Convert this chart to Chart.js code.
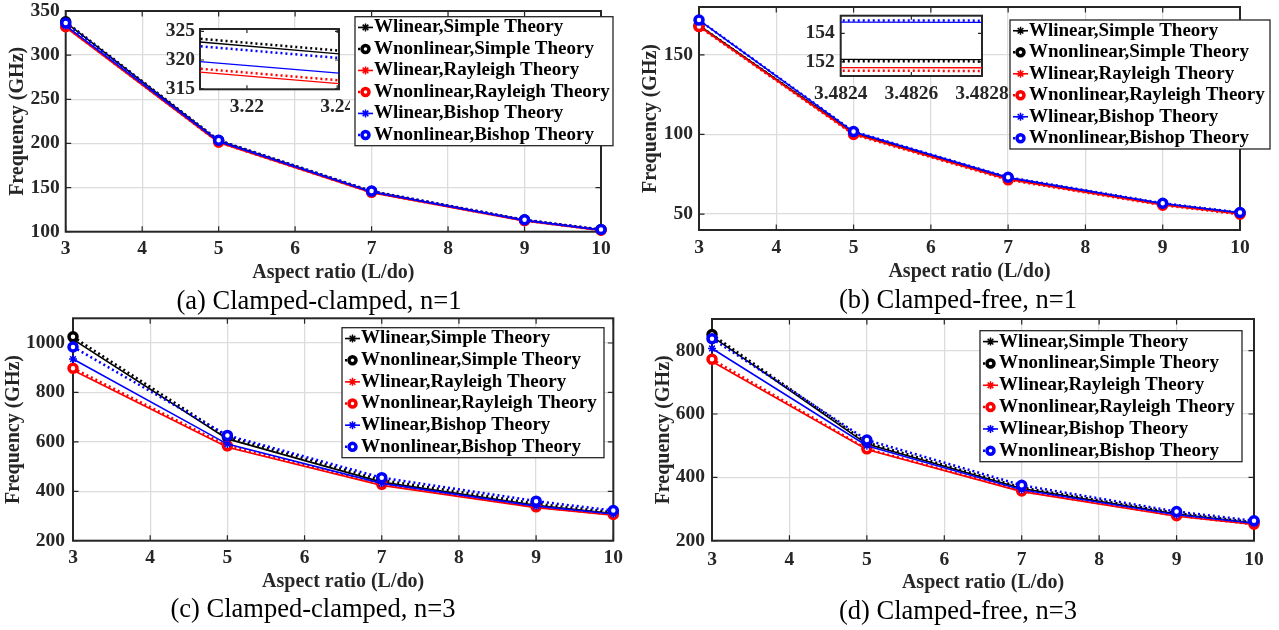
<!DOCTYPE html>
<html>
<head>
<meta charset="utf-8">
<script src="https://cdn.jsdelivr.net/npm/chart.js@4.4.1/dist/chart.umd.min.js"></script>
<style>
  body { margin: 0; background: #fff; width: 1279px; height: 630px; position: relative; overflow: hidden; }
  canvas { position: absolute; }
  .cap { position: absolute; font-family: "Liberation Serif", serif; font-size: 26.5px; line-height: 27px; color: #000; transform: translate(-50%, -50%); white-space: nowrap; }
</style>
</head>
<body>
<canvas id="pa" width="640" height="315" style="left:0px;top:0px"></canvas>
<canvas id="pb" width="649" height="315" style="left:630px;top:0px"></canvas>
<canvas id="pc" width="640" height="315" style="left:0px;top:315px"></canvas>
<canvas id="pd" width="649" height="315" style="left:630px;top:315px"></canvas>
<canvas id="ia" width="200" height="105" style="left:150px;top:18px"></canvas>
<canvas id="ib" width="225" height="105" style="left:790px;top:4px"></canvas>
<div class="cap" style="left:319px;top:300px">(a) Clamped-clamped, n=1</div>
<div class="cap" style="left:958px;top:299px">(b) Clamped-free, n=1</div>
<div class="cap" style="left:313px;top:608px">(c) Clamped-clamped, n=3</div>
<div class="cap" style="left:958px;top:610px">(d) Clamped-free, n=3</div>
<script>
// x values and legend labels
const aspectRatio = [3, 5, 7, 9, 10];
const seriesLabels = [
    'Wlinear,Simple Theory',
    'Wnonlinear,Simple Theory',
    'Wlinear,Rayleigh Theory',
    'Wnonlinear,Rayleigh Theory',
    'Wlinear,Bishop Theory',
    'Wnonlinear,Bishop Theory'
];

// (a) Clamped-clamped, n=1
const ccN1SimpleLin = [337.2, 203.0, 145.3, 113.0, 102.0];
const ccN1SimpleNon = [337.8, 203.3, 145.6, 113.3, 102.3];
const ccN1RayLin = [331.6, 200.9, 144.2, 112.3, 101.3];
const ccN1RayNon = [332.2, 201.3, 144.6, 112.6, 101.6];
const ccN1BishLin = [333.5, 202.1, 145.0, 112.8, 101.8];
const ccN1BishNon = [336.3, 203.6, 146.0, 113.5, 102.5];

// (b) Clamped-free, n=1
const cfN1SimpleLin = [168.5, 100.8, 72.4, 56.2, 50.5];
const cfN1SimpleNon = [168.3, 100.9, 72.5, 56.3, 50.6];
const cfN1RayLin = [167.9, 100.3, 71.8, 55.8, 50.1];
const cfN1RayNon = [167.7, 100.0, 71.5, 55.6, 49.9];
const cfN1BishLin = [171.7, 101.6, 72.9, 56.6, 50.8];
const cfN1BishNon = [171.8, 101.8, 73.1, 56.8, 51.0];

// (c) Clamped-clamped, n=3
const ccN3SimpleLin = [1015, 612, 437, 343, 310];
const ccN3SimpleNon = [1025, 620, 445, 350, 315];
const ccN3RayLin = [890, 578, 424, 334, 303];
const ccN3RayNon = [898, 584, 428, 337, 306];
const ccN3BishLin = [935, 591, 432, 340, 308];
const ccN3BishNon = [984, 626, 455, 360, 322];

// (d) Clamped-free, n=3
const cfN3SimpleLin = [845, 505, 365, 284, 256];
const cfN3SimpleNon = [851, 510, 368, 287, 258];
const cfN3RayLin = [766, 488, 355, 277, 251];
const cfN3RayNon = [773, 490, 357, 279, 252];
const cfN3BishLin = [807, 500, 361, 282, 255];
const cfN3BishNon = [838, 518, 375, 292, 263];

// tick labels
const xTicks = [3, 4, 5, 6, 7, 8, 9, 10];
const yTicksA = [100, 150, 200, 250, 300, 350];
const yTicksB = [50, 100, 150];
const yTicksC = [200, 400, 600, 800, 1000];
const yTicksD = [200, 400, 600, 800];
const insetXTicksA = [3.22, 3.24];
const insetYTicksA = [315, 320, 325];
const insetXTicksB = [3.4824, 3.4826, 3.4828];
const insetYTicksB = [152, 154];

const seriesColor = ['#000000', '#000000', '#ff0000', '#ff0000', '#0000ff', '#0000ff'];
const FONT = 'Liberation Serif';
const tickFont = { family: FONT, size: 19.5, weight: 'bold', lineHeight: 1.2 };
const titleFont = { family: FONT, size: 20, weight: 'bold', lineHeight: 1.2 };
const HALF_T = 20 * 1.2 / 2;
const HALF_K = 19.5 * 1.2 / 2;

function makeDatasets(seriesList, inset) {
    return seriesList.map((vals, i) => {
        const dotted = i % 2 === 1;
        return {
            label: seriesLabels[i],
            data: aspectRatio.map((x, k) => ({ x: x, y: vals[k] })),
            borderColor: seriesColor[i],
            backgroundColor: seriesColor[i],
            borderWidth: dotted ? 2.5 : (inset ? 1.3 : 1.6),
            borderDash: dotted ? [2, 3] : [],
            pointStyle: dotted ? 'circle' : 'star',
            pointRadius: inset ? 0 : (dotted ? 4 : 4),
            pointBorderWidth: dotted ? 3.5 : 1.5,
            pointBorderColor: seriesColor[i],
            pointBackgroundColor: dotted ? '#ffffff' : seriesColor[i],
            tension: 0,
            fill: false,
            clip: inset ? 0 : 12,
            order: seriesList.length - 1 - i
        };
    });
}

// zoomed insets map far-away points outside the int16 pixel clamp, so keep the raw pixel
function unclamped(s) {
    s.getPixelForDecimal = function (d) {
        if (this._reversePixels) d = 1 - d;
        return this._startPixel + d * this._length;
    };
}

// MATLAB-like box with inward ticks
const framePlugin = {
    id: 'frame',
    beforeDraw(chart, args, o) {
        if (!o.whiteFill) return;
        const a = chart.chartArea;
        chart.ctx.save();
        chart.ctx.fillStyle = '#ffffff';
        chart.ctx.fillRect(a.left, a.top, a.right - a.left, a.bottom - a.top);
        chart.ctx.restore();
    },
    beforeDatasetsDraw(chart, args, o) {
        const { ctx, chartArea: a, scales } = chart;
        const L = o.tickLen || 5;
        ctx.save();
        ctx.strokeStyle = '#262626';
        ctx.lineWidth = 1.2;
        ctx.beginPath();
        scales.x.ticks.forEach(t => {
            const px = scales.x.getPixelForValue(t.value);
            ctx.moveTo(px, a.bottom); ctx.lineTo(px, a.bottom - L);
            ctx.moveTo(px, a.top); ctx.lineTo(px, a.top + L);
        });
        scales.y.ticks.forEach(t => {
            const py = scales.y.getPixelForValue(t.value);
            ctx.moveTo(a.left, py); ctx.lineTo(a.left + L, py);
            ctx.moveTo(a.right, py); ctx.lineTo(a.right - L, py);
        });
        ctx.stroke();
        ctx.lineWidth = 2;
        ctx.strokeRect(a.left, a.top, a.right - a.left, a.bottom - a.top);
        ctx.restore();
    }
};

// boxed legend drawn at a fixed spot
const boxLegend = {
    id: 'boxLegend',
    afterDraw(chart, args, o) {
        if (!o.box) return;
        const ctx = chart.ctx;
        const { x, y, w, h } = o.box;
        const sets = chart.data.datasets;
        const rowH = h / sets.length;
        ctx.save();
        ctx.fillStyle = '#ffffff';
        ctx.fillRect(x, y, w, h);
        ctx.strokeStyle = '#262626';
        ctx.lineWidth = 1.3;
        ctx.strokeRect(x, y, w, h);
        ctx.font = 'bold 19px "' + FONT + '"';
        ctx.textBaseline = 'middle';
        sets.forEach((ds, i) => {
            const cy = y + rowH * (i + 0.5);
            const x0 = x + 3, x1 = x + 18;
            ctx.strokeStyle = ds.borderColor;
            ctx.lineWidth = ds.borderWidth;
            ctx.setLineDash(ds.borderDash);
            ctx.beginPath();
            ctx.moveTo(x0, cy); ctx.lineTo(x1, cy);
            ctx.stroke();
            ctx.setLineDash([]);
            ctx.lineWidth = ds.pointBorderWidth;
            ctx.fillStyle = ds.pointBackgroundColor;
            Chart.helpers.drawPoint(ctx, { pointStyle: ds.pointStyle, radius: ds.pointStyle === 'circle' ? 3.5 : 4, borderWidth: ds.pointBorderWidth, rotation: 0 }, (x0 + x1) / 2, cy);
            ctx.fillStyle = '#000000';
            ctx.fillText(ds.label, x + 19, cy);
        });
        ctx.restore();
    }
};

function buildChart(id, p) {
    const c = p.canvas, a = p.area;
    const padLeft = p.yTitleX ? p.yTitleX - c.x - HALF_T : 0;
    const yW = a.l - c.x - padLeft;
    const xBottom = p.xTitleY ? p.xTitleY + HALF_T : c.y + c.h;
    const xH = xBottom - a.b;
    const cfg = {
        type: 'line',
        data: { datasets: makeDatasets(p.series, p.inset) },
        plugins: p.inset ? [framePlugin] : [framePlugin, boxLegend],
        options: {
            responsive: false,
            animation: false,
            events: [],
            layout: {
                autoPadding: false,
                padding: { left: padLeft, right: c.x + c.w - a.r, top: a.t - c.y, bottom: c.y + c.h - xBottom }
            },
            plugins: {
                legend: { display: false },
                tooltip: { enabled: false },
                frame: { whiteFill: !!p.inset, tickLen: p.inset ? 4 : 5.5 },
                boxLegend: { box: p.legend ? { x: p.legend.x - c.x, y: p.legend.y - c.y, w: p.legend.w, h: p.legend.h } : null }
            },
            scales: {
                x: {
                    type: 'linear',
                    min: p.xRange[0],
                    max: p.xRange[1],
                    afterBuildTicks: s => {
                        s.ticks = p.xTicks.map(v => ({ value: v }));
                        if (p.inset) unclamped(s);
                    },
                    afterFit: s => { s.height = xH; s.paddingLeft = 0; s.paddingRight = 0; },
                    grid: { display: !p.inset, color: '#dcdcdc', lineWidth: 1.3, drawTicks: false },
                    border: { display: false },
                    ticks: { padding: p.xLabelY - a.b - HALF_K, color: '#262626', font: tickFont, maxRotation: 0, autoSkip: false, callback: v => String(v) },
                    title: { display: !!p.xTitleY, text: 'Aspect ratio (L/do)', color: '#262626', font: titleFont, padding: 0 }
                },
                y: {
                    type: 'linear',
                    min: p.yRange[0],
                    max: p.yRange[1],
                    afterBuildTicks: s => {
                        s.ticks = p.yTicks.map(v => ({ value: v }));
                        if (p.inset) unclamped(s);
                    },
                    afterFit: s => { s.width = yW; s.paddingTop = 0; s.paddingBottom = 0; },
                    grid: { display: !p.inset, color: '#dcdcdc', lineWidth: 1.3, drawTicks: false },
                    border: { display: false },
                    ticks: { padding: p.yGap, color: '#262626', font: tickFont, autoSkip: false, callback: v => String(v) },
                    title: { display: !!p.yTitleX, text: 'Frequency (GHz)', color: '#262626', font: titleFont, padding: 0 }
                }
            }
        }
    };
    return new Chart(document.getElementById(id), cfg);
}

const setA = [ccN1SimpleLin, ccN1SimpleNon, ccN1RayLin, ccN1RayNon, ccN1BishLin, ccN1BishNon];
const setB = [cfN1SimpleLin, cfN1SimpleNon, cfN1RayLin, cfN1RayNon, cfN1BishLin, cfN1BishNon];
const setC = [ccN3SimpleLin, ccN3SimpleNon, ccN3RayLin, ccN3RayNon, ccN3BishLin, ccN3BishNon];
const setD = [cfN3SimpleLin, cfN3SimpleNon, cfN3RayLin, cfN3RayNon, cfN3BishLin, cfN3BishNon];

buildChart('pa', {
    canvas: { x: 0, y: 0, w: 640, h: 315 },
    area: { l: 65.7, r: 601, t: 11, b: 231.7 },
    yTitleX: 18, xTitleY: 273, yGap: 6, xLabelY: 249,
    xRange: [3, 10], yRange: [100, 350], xTicks: xTicks, yTicks: yTicksA,
    series: setA,
    legend: { x: 355, y: 16.7, w: 258, h: 129 }
});
buildChart('pb', {
    canvas: { x: 630, y: 0, w: 649, h: 315 },
    area: { l: 699, r: 1240, t: 7, b: 230 },
    yTitleX: 651, xTitleY: 272, yGap: 6, xLabelY: 248,
    xRange: [3, 10], yRange: [40, 180], xTicks: xTicks, yTicks: yTicksB,
    series: setB,
    legend: { x: 1010, y: 20, w: 260, h: 129 }
});
buildChart('pc', {
    canvas: { x: 0, y: 315, w: 640, h: 315 },
    area: { l: 73, r: 613.3, t: 318.3, b: 540.7 },
    yTitleX: 14.3, xTitleY: 581.7, yGap: 8, xLabelY: 558.3,
    xRange: [3, 10], yRange: [200, 1100], xTicks: xTicks, yTicks: yTicksC,
    series: setC,
    legend: { x: 342, y: 327.7, w: 262, h: 130 }
});
buildChart('pd', {
    canvas: { x: 630, y: 315, w: 649, h: 315 },
    area: { l: 712, r: 1254, t: 319, b: 540.7 },
    yTitleX: 664, xTitleY: 582.7, yGap: 7, xLabelY: 560,
    xRange: [3, 10], yRange: [200, 900], xTicks: xTicks, yTicks: yTicksD,
    series: setD,
    legend: { x: 980, y: 330.7, w: 262, h: 131 }
});
buildChart('ia', {
    inset: true,
    canvas: { x: 150, y: 18, w: 200, h: 105 },
    area: { l: 200, r: 339, t: 29, b: 89.3 },
    yGap: 5, xLabelY: 106.7,
    xRange: [3.2096, 3.2404], yRange: [314.9, 325.4], xTicks: insetXTicksA, yTicks: insetYTicksA,
    series: setA
});
buildChart('ib', {
    inset: true,
    canvas: { x: 790, y: 4, w: 225, h: 105 },
    area: { l: 840.7, r: 982, t: 15.7, b: 76 },
    yGap: 6, xLabelY: 94.3,
    xRange: [3.4824, 3.4828], yRange: [151, 155.25], xTicks: insetXTicksB, yTicks: insetYTicksB,
    series: setB
});
</script>
</body>
</html>
